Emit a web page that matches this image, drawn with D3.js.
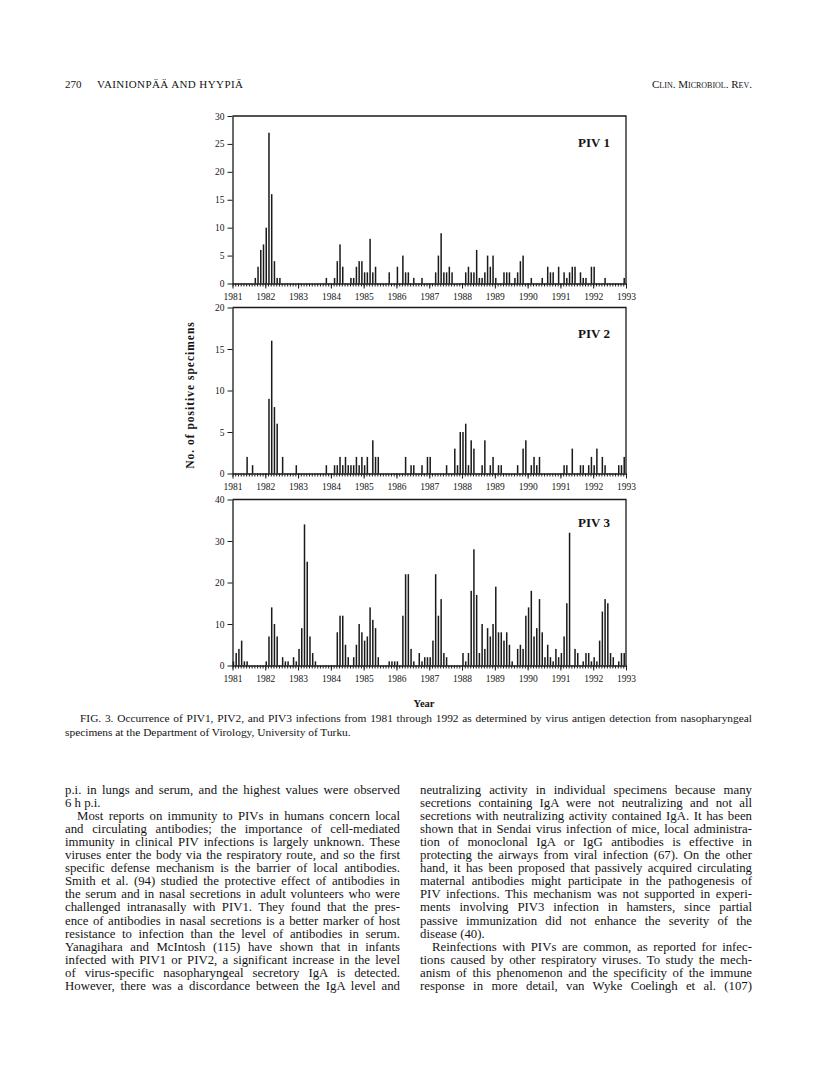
<!DOCTYPE html>
<html>
<head>
<meta charset="utf-8">
<script src="https://cdn.jsdelivr.net/npm/d3@7"></script>
<style>
  body { margin: 0; background: #fff; }
  svg text { font-family: 'Liberation Serif', 'Times New Roman', serif; fill: #141414; }
</style>
</head>
<body>
<div id="page"></div>
<script>
// year labels under each panel (one tick per January)
const years = d3.range(1981, 1994);

// monthly counts, one row per year (Jan..Dec), 1981 -> 1992
const piv1 = [
  0, 0, 0, 0, 0, 0, 0, 0, 1, 3, 6, 7,
  10, 27, 16, 4, 1, 1, 0, 0, 0, 0, 0, 0,
  0, 0, 0, 0, 0, 0, 0, 0, 0, 0, 1, 0,
  0, 1, 4, 7, 3, 0, 0, 1, 1, 3, 4, 4,
  2, 2, 8, 2, 3, 0, 0, 0, 0, 2, 0, 0,
  3, 0, 5, 2, 2, 0, 1, 0, 0, 1, 0, 0,
  0, 0, 2, 5, 9, 2, 2, 3, 2, 0, 0, 0,
  0, 2, 3, 2, 2, 6, 1, 1, 2, 5, 3, 5,
  1, 0, 0, 2, 2, 2, 0, 1, 2, 4, 5, 0,
  0, 1, 0, 0, 0, 1, 0, 3, 2, 2, 0, 3,
  0, 2, 1, 2, 3, 3, 0, 2, 1, 1, 0, 3,
  3, 0, 0, 0, 1, 0, 0, 0, 0, 0, 0, 1,
];

const piv2 = [
  0, 0, 0, 0, 0, 2, 0, 1, 0, 0, 0, 0,
  0, 9, 16, 8, 6, 0, 2, 0, 0, 0, 0, 1,
  0, 0, 0, 0, 0, 0, 0, 0, 0, 0, 1, 0,
  0, 1, 1, 2, 1, 2, 1, 1, 1, 2, 1, 2,
  1, 2, 0, 4, 2, 2, 0, 0, 0, 0, 0, 0,
  0, 0, 0, 2, 0, 1, 1, 0, 0, 1, 0, 2,
  2, 0, 0, 0, 0, 0, 1, 0, 0, 3, 1, 5,
  5, 6, 1, 4, 3, 0, 0, 1, 4, 0, 1, 2,
  0, 1, 1, 0, 0, 0, 0, 0, 1, 0, 3, 4,
  0, 1, 2, 1, 2, 0, 0, 0, 0, 0, 0, 0,
  0, 1, 1, 0, 3, 0, 0, 1, 1, 0, 1, 2,
  1, 3, 0, 2, 1, 0, 0, 0, 0, 1, 1, 2,
];

const piv3 = [
  1, 3, 4, 6, 1, 1, 0, 0, 0, 0, 0, 0,
  1, 7, 14, 10, 7, 0, 2, 1, 1, 0, 2, 1,
  4, 9, 34, 25, 7, 3, 1, 0, 0, 0, 0, 0,
  0, 0, 8, 12, 12, 5, 2, 0, 2, 5, 10, 8,
  6, 7, 14, 11, 9, 2, 0, 0, 0, 1, 1, 1,
  1, 0, 12, 22, 22, 4, 1, 0, 3, 1, 2, 2,
  2, 6, 22, 12, 16, 3, 2, 0, 0, 0, 0, 0,
  3, 1, 3, 18, 28, 17, 3, 10, 4, 9, 7, 10,
  19, 8, 8, 6, 8, 5, 1, 0, 4, 5, 4, 12,
  14, 18, 7, 9, 16, 8, 2, 5, 2, 1, 4, 2,
  3, 7, 15, 32, 0, 4, 3, 0, 1, 3, 3, 1,
  2, 1, 6, 13, 16, 15, 3, 2, 0, 1, 3, 3,
];

const panelNames = ['PIV 1', 'PIV 2', 'PIV 3'];
const panelMax = [30, 20, 40];
const panelStep = [5, 5, 10];

// page text
const header = {page: '270', authors: 'VAINIONPÄÄ AND HYYPIÄ', journal: 'Clin. Microbiol. Rev.'};
const caption = [
  'FIG. 3. Occurrence of PIV1, PIV2, and PIV3 infections from 1981 through 1992 as determined by virus antigen detection from nasopharyngeal',
  'specimens at the Department of Virology, University of Turku.',
];
const leftColumn = [
  {indent: false, ends: true, lines: [
    'p.i. in lungs and serum, and the highest values were observed',
    '6 h p.i.',
  ]},
  {indent: true, ends: false, lines: [
    'Most reports on immunity to PIVs in humans concern local',
    'and circulating antibodies; the importance of cell-mediated',
    'immunity in clinical PIV infections is largely unknown. These',
    'viruses enter the body via the respiratory route, and so the first',
    'specific defense mechanism is the barrier of local antibodies.',
    'Smith et al. (94) studied the protective effect of antibodies in',
    'the serum and in nasal secretions in adult volunteers who were',
    'challenged intranasally with PIV1. They found that the pres-',
    'ence of antibodies in nasal secretions is a better marker of host',
    'resistance to infection than the level of antibodies in serum.',
    'Yanagihara and McIntosh (115) have shown that in infants',
    'infected with PIV1 or PIV2, a significant increase in the level',
    'of virus-specific nasopharyngeal secretory IgA is detected.',
    'However, there was a discordance between the IgA level and',
  ]},
];
const rightColumn = [
  {indent: false, ends: true, lines: [
    'neutralizing activity in individual specimens because many',
    'secretions containing IgA were not neutralizing and not all',
    'secretions with neutralizing activity contained IgA. It has been',
    'shown that in Sendai virus infection of mice, local administra-',
    'tion of monoclonal IgA or IgG antibodies is effective in',
    'protecting the airways from viral infection (67). On the other',
    'hand, it has been proposed that passively acquired circulating',
    'maternal antibodies might participate in the pathogenesis of',
    'PIV infections. This mechanism was not supported in experi-',
    'ments involving PIV3 infection in hamsters, since partial',
    'passive immunization did not enhance the severity of the',
    'disease (40).',
  ]},
  {indent: true, ends: false, lines: [
    'Reinfections with PIVs are common, as reported for infec-',
    'tions caused by other respiratory viruses. To study the mech-',
    'anism of this phenomenon and the specificity of the immune',
    'response in more detail, van Wyke Coelingh et al. (107)',
  ]},
];

const ink = '#1a1a1a';
const svg = d3.select('#page').append('svg')
  .attr('width', 816)
  .attr('height', 1076);

// month index -> x, shared by the three panels
const x = d3.scaleLinear().domain([0, 144]).range([232.5, 626]);

const layout = [
  {top: 116, zero: 283.5, labelDy: 31},
  {top: 307.5, zero: 473.5, labelDy: 30},
  {top: 499.5, zero: 665.5, labelDy: 27},
];

const drawPanel = (values, i) => {
  const {top, zero, labelDy} = layout[i];
  const y = d3.scaleLinear().domain([0, panelMax[i]]).range([zero, top]);
  const g = svg.append('g').attr('color', ink);

  // top and right border of the box
  g.append('path')
    .attr('d', `M${x(0)},${top}H${x(144)}V${zero}`)
    .attr('fill', 'none')
    .attr('stroke', ink)
    .attr('stroke-width', 1.3);

  // monthly ticks + baseline
  g.append('g')
    .attr('transform', `translate(0,${zero})`)
    .call(d3.axisBottom(x).tickValues(d3.range(0, 145)).tickSize(3).tickSizeOuter(0).tickFormat(''))
    .call((a) => a.select('.domain').attr('stroke-width', 1.3));

  // year ticks and labels
  g.append('g')
    .attr('transform', `translate(0,${zero})`)
    .call(d3.axisBottom(x).tickValues(d3.range(0, 145, 12)).tickSize(5).tickPadding(5)
      .tickFormat((d) => years[d / 12]))
    .call((a) => a.select('.domain').remove())
    .call((a) => a.selectAll('text').attr('font-family', null).attr('font-size', 9.5));

  g.append('g')
    .attr('transform', `translate(${x(0)},0)`)
    .call(d3.axisLeft(y).tickValues(d3.range(0, panelMax[i] + 1, panelStep[i]))
      .tickSize(5).tickSizeOuter(0).tickPadding(3))
    .call((a) => a.select('.domain').attr('stroke-width', 1.3))
    .call((a) => a.selectAll('text').attr('font-family', null).attr('font-size', 9.5));

  g.selectAll('rect.bar')
    .data(values.map((v, m) => ({m, v})).filter((d) => d.v > 0))
    .join('rect')
    .attr('class', 'bar')
    .attr('x', (d) => x(d.m) + 0.2)
    .attr('width', 1.5)
    .attr('y', (d) => y(d.v))
    .attr('height', (d) => zero - y(d.v))
    .attr('fill', ink);

  g.append('text')
    .attr('x', 610)
    .attr('y', top + labelDy)
    .attr('text-anchor', 'end')
    .attr('font-size', 13)
    .attr('font-weight', 'bold')
    .text(panelNames[i]);
};

[piv1, piv2, piv3].forEach(drawPanel);

svg.append('text')
  .attr('transform', 'translate(194,395) rotate(-90)')
  .attr('text-anchor', 'middle')
  .attr('font-size', 11.5)
  .attr('font-weight', 'bold')
  .attr('letter-spacing', 1)
  .text('No. of positive specimens');

svg.append('text')
  .attr('x', 424)
  .attr('y', 707)
  .attr('text-anchor', 'middle')
  .attr('font-size', 10.5)
  .attr('font-weight', 'bold')
  .text('Year');

// justified line: stretch word spacing so the line fills the width
const justifyLine = (sel, width) => {
  const natural = sel.node().getComputedTextLength();
  const gaps = (sel.text().match(/ /g) || []).length;
  if (gaps > 0) sel.attr('word-spacing', (width - natural) / gaps);
};

const writeLine = ({text, x0, y0, width, size, justify}) => {
  const t = svg.append('text')
    .attr('x', x0)
    .attr('y', y0)
    .attr('font-size', size)
    .text(text);
  if (justify) justifyLine(t, width);
  return t;
};

const writeColumn = (paragraphs, x0, x1, y0, lineHeight, size) => {
  let row = 0;
  paragraphs.forEach((p) => {
    p.lines.forEach((text, k) => {
      const indent = p.indent && k === 0 ? 12 : 0;
      const last = k === p.lines.length - 1;
      writeLine({
        text,
        x0: x0 + indent,
        y0: y0 + row * lineHeight,
        width: x1 - x0 - indent,
        size,
        justify: !(last && p.ends),
      });
      row += 1;
    });
  });
};

// running head
writeLine({text: header.page, x0: 65, y0: 88, size: 11});
svg.append('text')
  .attr('x', 97)
  .attr('y', 88)
  .attr('font-size', 11)
  .attr('letter-spacing', 0.4)
  .text(header.authors);
svg.append('text')
  .attr('x', 752)
  .attr('y', 88)
  .attr('text-anchor', 'end')
  .attr('font-size', 11)
  .style('font-variant', 'small-caps')
  .text(header.journal);

// figure caption
writeLine({text: caption[0], x0: 80, y0: 722, width: 672, size: 11.4, justify: true});
writeLine({text: caption[1], x0: 65, y0: 736, size: 11.4});

writeColumn(leftColumn, 65, 400, 794, 13.05, 12.8);
writeColumn(rightColumn, 420, 752, 794, 13.05, 12.8);
</script>
</body>
</html>
